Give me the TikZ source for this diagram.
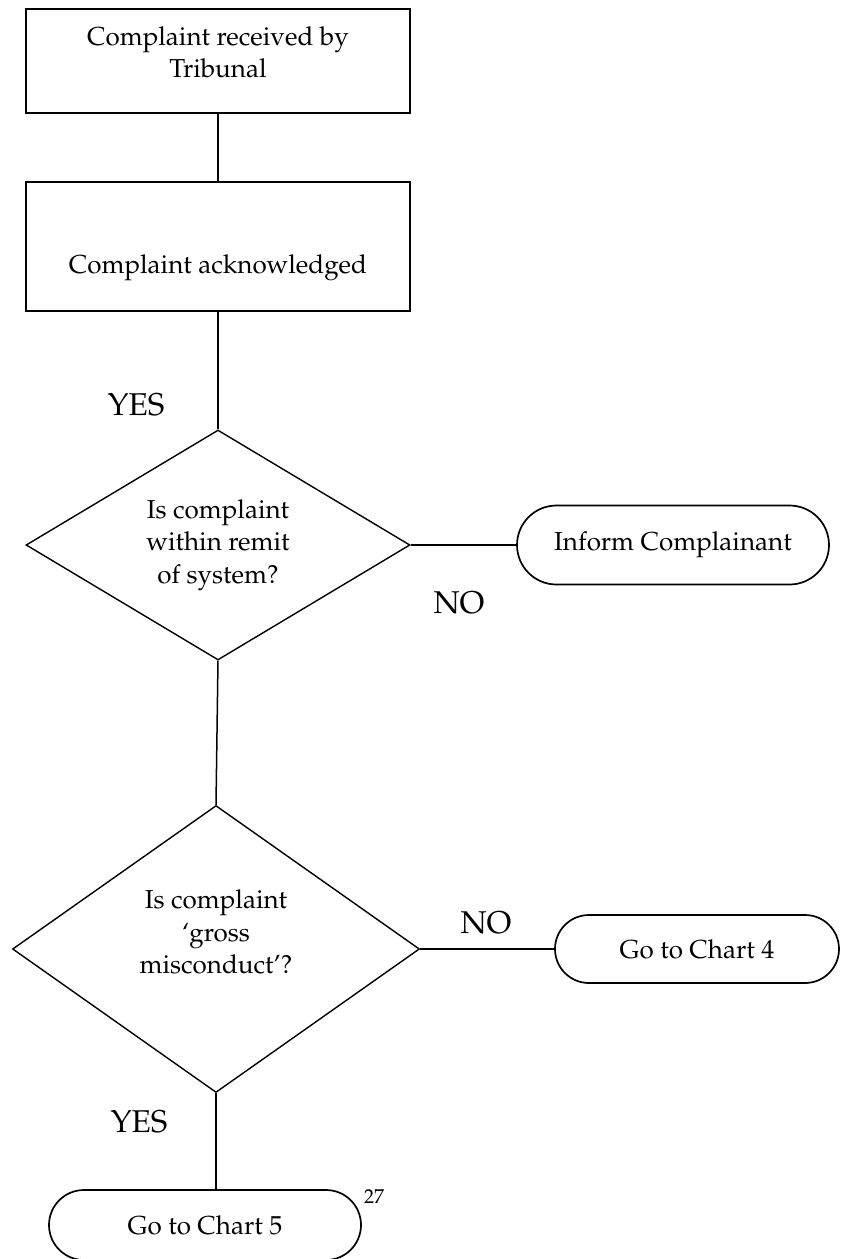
\documentclass[tikz,border=0pt]{standalone}
\usepackage[T1]{fontenc}
\renewcommand{\rmdefault}{ppl}
\usetikzlibrary{shapes.geometric}

\begin{document}
\begin{tikzpicture}[x=1pt,y=-1pt,
  box/.style={draw, line width=1.9pt, minimum width=384pt, inner sep=0pt},
  decision/.style={draw, diamond, line width=1.4pt, inner sep=0pt},
  terminal/.style={draw, rectangle, line width=1.7pt, inner sep=0pt,
    font=\fontsize{26}{32.5}\selectfont},
  txt/.style={font=\fontsize{26}{32.5}\selectfont, align=center, inner sep=0pt},
  answer/.style={font=\fontsize{31.5}{36}\selectfont, inner sep=0pt, anchor=base},
  link/.style={line width=1.5pt}
]
\path[use as bounding box, fill=white] (0,0) rectangle (842,1259);

% process boxes
\node[box, minimum height=104pt] (recv) at (218,61) {};
\node[txt] at (218,52) {Complaint received by\\Tribunal};
\node[box, minimum height=129pt] (ack) at (218,246.5) {};
\node[txt] at (218,268) {Complaint acknowledged};

% decisions
\node[decision, minimum width=384pt, minimum height=230pt] (remit) at (218,545) {};
\node[txt] at (218,545) {Is complaint\\within remit\\of system?};
\node[decision, minimum width=407pt, minimum height=287pt] (gross) at (216,949) {};
\node[txt] at (216,932) {Is complaint\\`gross\\misconduct'?};

% terminals
\node[terminal, minimum width=312pt, minimum height=79pt, rounded corners=39.5pt] (inform) at (673,545) {Inform Complainant};
\node[terminal, minimum width=284pt, minimum height=68pt, rounded corners=34pt] (chart4) at (697,949) {Go to Chart 4};
\node[terminal, minimum width=312pt, minimum height=70pt, rounded corners=35pt] (chart5) at (205,1225) {Go to Chart 5};

% connectors
\draw[link] (recv.south) -- (ack.north);
\draw[link] (ack.south) -- (remit.north);
\draw[link] (remit.south) -- (gross.north);
\draw[link] (remit.east) -- (inform.west);
\draw[link] (gross.east) -- (chart4.west);
\draw[link] (gross.south) -- (gross.south |- chart5.north);

% answer labels
\node[answer] (yes1) at (136,415) {YES};
\node[answer] (no1) at (459,613) {NO};
\node[answer] (no2) at (486,933) {NO};
\node[answer] (yes2) at (139,1132) {YES};
\node[font=\fontsize{20}{22}\selectfont, anchor=base, inner sep=0pt] (pg) at (374,1203) {27};
\end{tikzpicture}
\end{document}
